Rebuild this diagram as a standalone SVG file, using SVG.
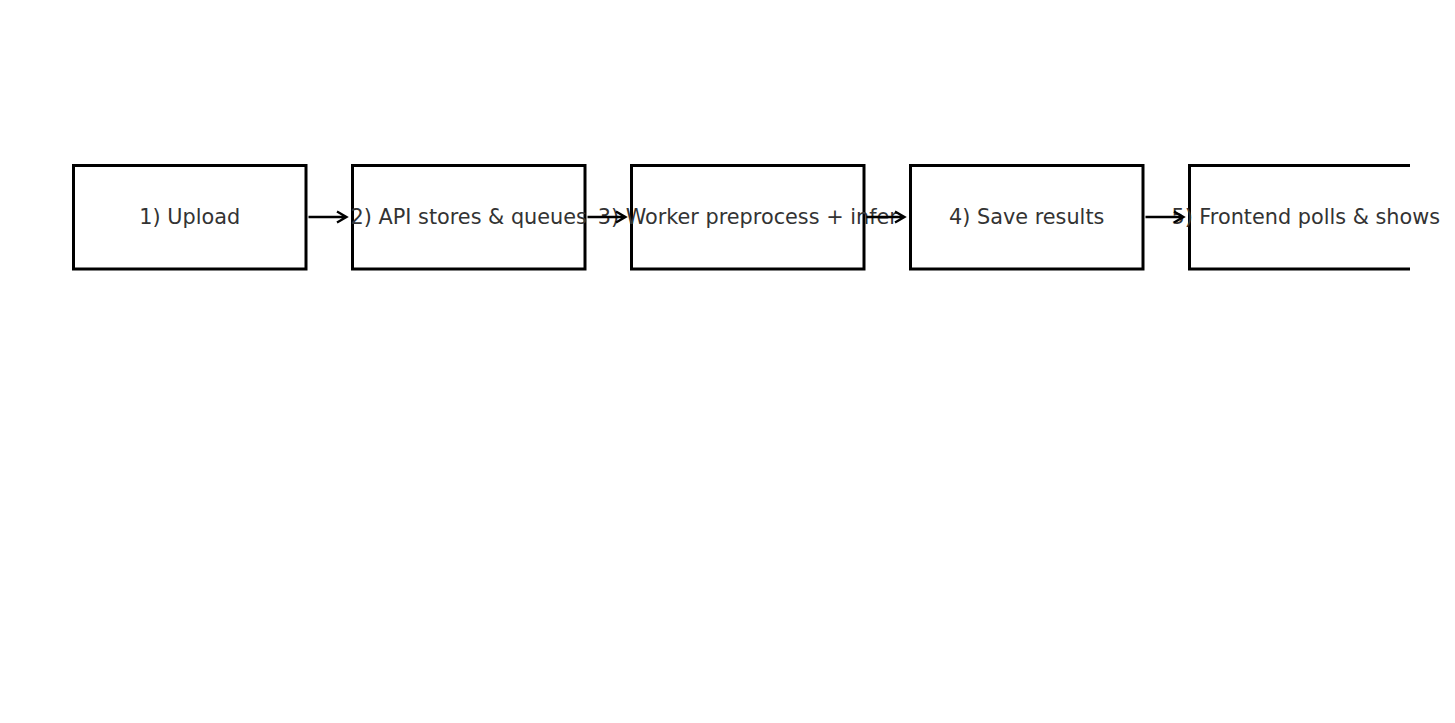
<svg xmlns="http://www.w3.org/2000/svg" width="1455" height="723" viewBox="0 0 1455 723">
<style>
.box{fill:#fff;stroke:#000;stroke-width:3}
.lbl{font-family:"DejaVu Sans",sans-serif;font-size:20.8px;fill:#333;text-anchor:middle}
.arr{fill:none;stroke:#000;stroke-width:2.3;stroke-linecap:butt;stroke-linejoin:miter}
</style>
<defs>
<clipPath id="ax"><rect x="0" y="0" width="1410" height="723"/></clipPath>
</defs>
<rect width="1455" height="723" fill="#fff"/>
<g id="n1"><rect class="box" x="73.5" y="165.5" width="232.5" height="103.5"/><text class="lbl" x="189.75" y="223.5">1) Upload</text></g>
<g id="n2"><rect class="box" x="352.5" y="165.5" width="232.5" height="103.5"/><text class="lbl" x="468.75" y="223.5">2) API stores &amp; queues</text></g>
<g id="n3"><rect class="box" x="631.5" y="165.5" width="232.5" height="103.5"/><text class="lbl" x="747.75" y="223.5">3) Worker preprocess + infer</text></g>
<g id="n4"><rect class="box" x="910.5" y="165.5" width="232.5" height="103.5"/><text class="lbl" x="1026.75" y="223.5">4) Save results</text></g>
<g id="n5"><rect class="box" x="1189.5" y="165.5" width="232.5" height="103.5" clip-path="url(#ax)"/><text class="lbl" x="1305.75" y="223.5">5) Frontend polls &amp; shows</text></g>
<g id="connectors">
<path class="arr" d="M308.5 217H346M337 211.5L346.5 217L337 222.5"/>
<path class="arr" d="M587.5 217H625M616 211.5L625.5 217L616 222.5"/>
<path class="arr" d="M866.5 217H904M895 211.5L904.5 217L895 222.5"/>
<path class="arr" d="M1145.5 217H1183M1174 211.5L1183.5 217L1174 222.5"/>
</g>
</svg>
